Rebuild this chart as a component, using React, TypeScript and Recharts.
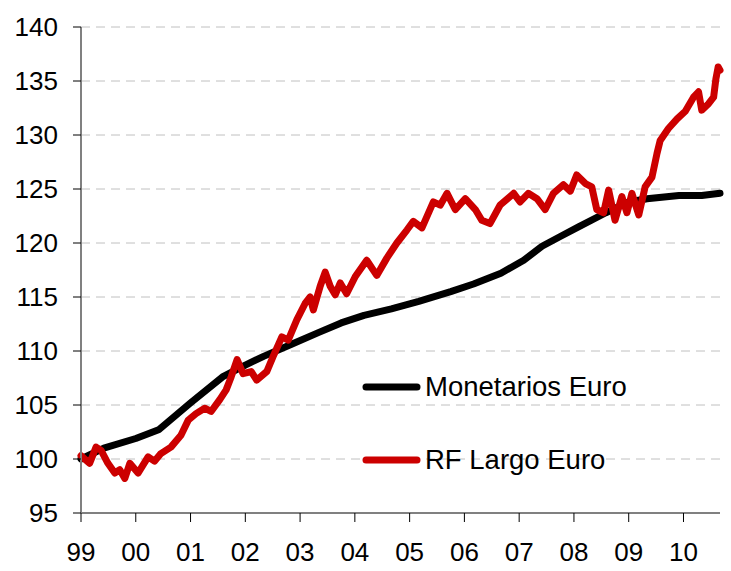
import React from 'react';
import { LineChart, Line, XAxis, YAxis, CartesianGrid, Legend } from 'recharts';

const FONT = 'Arial, "Liberation Sans", sans-serif';

// x axis is months since Jan 1999
const yearTicks = [0, 12, 24, 36, 48, 60, 72, 84, 96, 108, 120, 132];
const yearLabels = ['99', '00', '01', '02', '03', '04', '05', '06', '07', '08', '09', '10'];
const valueTicks = [95, 100, 105, 110, 115, 120, 125, 130, 135, 140];

const monetariosMonths = [0, 5, 12, 17, 24, 31, 36, 40, 46, 52, 57, 62, 68, 74, 81, 86, 92, 97, 101, 105, 109, 115, 120, 124, 131, 136, 140];
const monetariosValues = [100.0, 101.0, 101.9, 102.7, 105.2, 107.6, 108.7, 109.5, 110.6, 111.7, 112.6, 113.3, 113.9, 114.6, 115.5, 116.2, 117.2, 118.4, 119.7, 120.6, 121.5, 122.8, 123.8, 124.1, 124.4, 124.4, 124.6];

const rfLargoMonths = [
  0, 1.9, 3.3, 4.4, 5.9, 7.4, 8.5, 9.6, 10.7, 12.5, 14.7, 16.1, 17.5, 19.7, 21.9, 23.5,
  25.2, 27.1, 28.5, 30.4, 31.8, 32.9, 34.2, 35.5, 37.3, 38.5, 40.7, 42.1, 44, 45.4, 47.3,
  49.1, 50.2, 50.9, 52.4, 53.5, 54.6, 55.7, 56.8, 58.2, 60.1, 62.6, 64.8, 67, 69.2, 71.4,
  72.8, 74.7, 77.2, 78.7, 80.2, 82, 84.2, 86.4, 87.8, 89.6, 91.8, 94.8, 96.2, 98, 99.9,
  101.7, 103.5, 105.7, 107.2, 108.6, 110.5, 111.9, 113, 114.5, 115.6, 117, 118.5, 119.6,
  120.7, 122.2, 123.6, 125.1, 126.2, 126.9, 128.7, 130.6, 132.4, 134.2, 135.3, 136, 137.5,
  138.6, 139.1, 139.6, 140,
];
const rfLargoValues = [
  100.3, 99.6, 101.1, 100.8, 99.6, 98.7, 99.0, 98.2, 99.6, 98.7, 100.2, 99.8, 100.5, 101.1, 102.2, 103.6,
  104.2, 104.7, 104.4, 105.5, 106.4, 107.6, 109.2, 107.9, 108.1, 107.3, 108.1, 109.5, 111.3, 111.0, 112.9,
  114.4, 115.0, 113.8, 116.0, 117.3, 116.0, 115.2, 116.3, 115.3, 116.9, 118.4, 117.0, 118.6, 120.0, 121.2,
  122.0, 121.4, 123.8, 123.5, 124.6, 123.1, 124.1, 123.1, 122.1, 121.8, 123.5, 124.6, 123.8, 124.6, 124.1,
  123.1, 124.6, 125.4, 124.8, 126.3, 125.5, 125.2, 123.1, 122.8, 124.9, 122.1, 124.3, 122.8,
  124.6, 122.6, 125.2, 126.1, 128.3, 129.5, 130.6, 131.5, 132.2, 133.5, 134.0, 132.3, 132.9,
  133.5, 135.2, 136.3, 136.0,
];

const monetarios = monetariosMonths.map((m, i) => ({ m, v: monetariosValues[i] }));
const rfLargo = rfLargoMonths.map((m, i) => ({ m, v: rfLargoValues[i] }));

const SERIES = [
  { name: 'Monetarios Euro', color: '#000000' },
  { name: 'RF Largo Euro', color: '#CC0000' },
];

const LegendBox = () => (
  <div style={{ fontFamily: FONT, fontSize: 27.5, color: '#000' }}>
    {SERIES.map((s, i) => (
      <div key={s.name} style={{ display: 'flex', alignItems: 'center', height: 44, marginBottom: i === 0 ? 29 : 0 }}>
        <svg width={62} height={10} style={{ display: 'block' }}>
          <line x1={6} y1={5} x2={57} y2={5} stroke={s.color} strokeWidth={7} strokeLinecap="round" />
        </svg>
        <span style={{ marginLeft: 3, whiteSpace: 'nowrap' }}>{s.name}</span>
      </div>
    ))}
  </div>
);

export default function App() {
  return (
    <div style={{ position: 'absolute', left: 0, top: 0, background: '#fff' }}>
      <LineChart width={731} height={571} margin={{ top: 27, right: 11, left: 0, bottom: 0 }}>
        <CartesianGrid vertical={false} strokeDasharray="9 6" stroke="#c0c0c0" />
        <XAxis
          type="number"
          dataKey="m"
          domain={[0, 140]}
          ticks={yearTicks}
          tickFormatter={(v: number) => yearLabels[yearTicks.indexOf(v)]}
          height={58}
          axisLine={{ stroke: '#808080', strokeWidth: 2 }}
          tickLine={{ stroke: '#000' }}
          tickSize={9}
          tickMargin={21}
          tick={{ fill: '#000', fontSize: 26, fontFamily: FONT }}
          interval={0}
        />
        <YAxis
          type="number"
          domain={[95, 140]}
          ticks={valueTicks}
          width={81}
          axisLine={{ stroke: '#808080', strokeWidth: 2 }}
          tickLine={{ stroke: '#000' }}
          tickSize={8}
          tickMargin={15}
          tick={{ fill: '#000', fontSize: 26, fontFamily: FONT }}
          interval={0}
        />
        <Legend
          layout="vertical"
          align="center"
          verticalAlign="middle"
          wrapperStyle={{ left: 360, top: 365, width: 320 }}
          content={<LegendBox />}
        />
        <Line
          data={monetarios}
          dataKey="v"
          name="Monetarios Euro"
          type="linear"
          stroke="#000000"
          strokeWidth={7}
          strokeLinejoin="round"
          strokeLinecap="round"
          dot={false}
          isAnimationActive={false}
        />
        <Line
          data={rfLargo}
          dataKey="v"
          name="RF Largo Euro"
          type="linear"
          stroke="#CC0000"
          strokeWidth={7}
          strokeLinejoin="round"
          strokeLinecap="round"
          dot={false}
          isAnimationActive={false}
        />
      </LineChart>
    </div>
  );
}
